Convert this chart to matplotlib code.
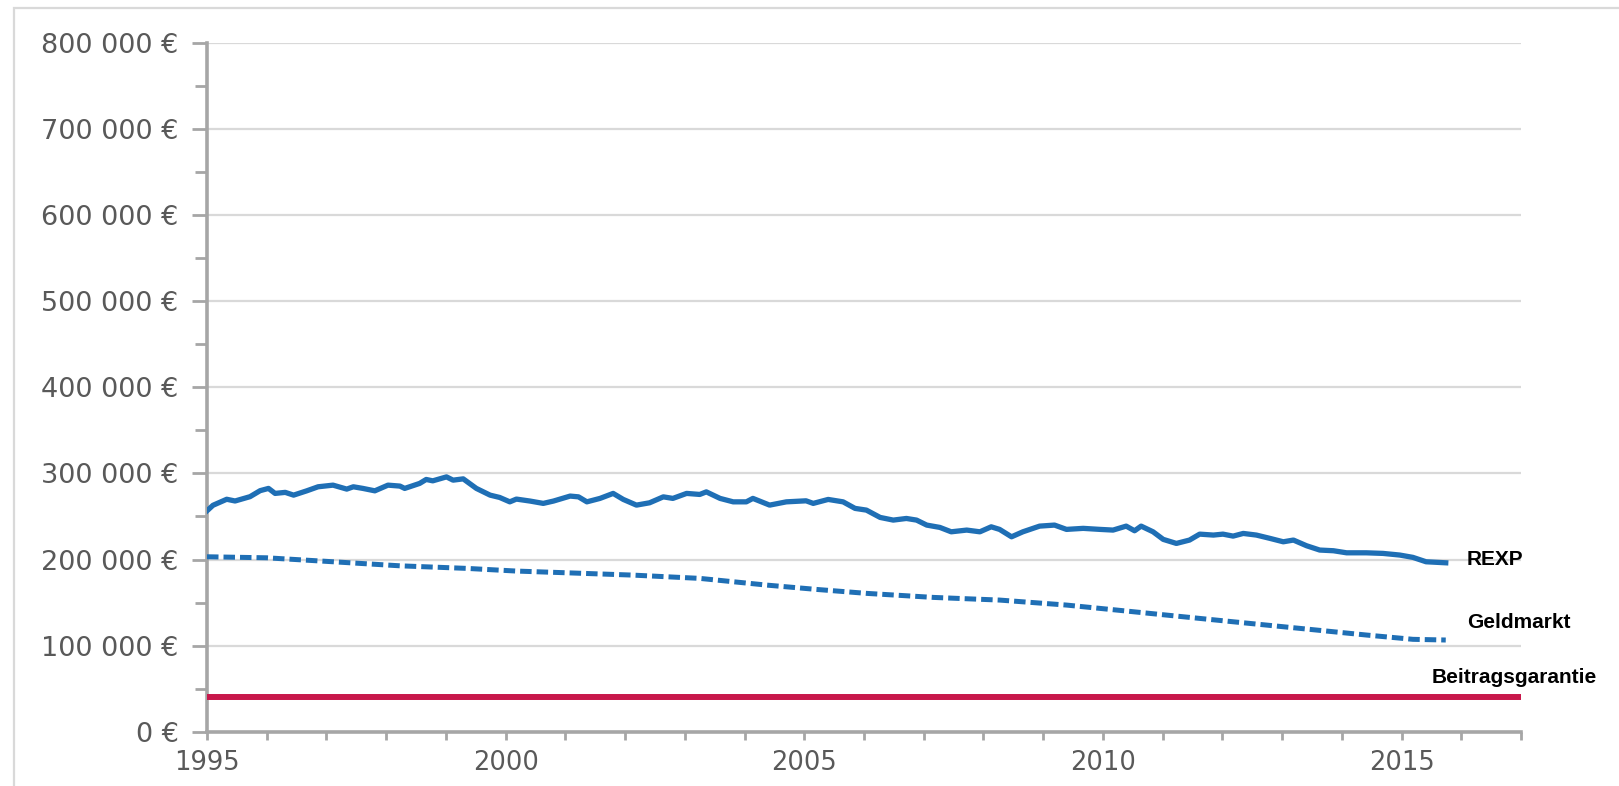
import matplotlib
matplotlib.use("Agg")
import matplotlib.pyplot as plt
from matplotlib.ticker import MultipleLocator, FuncFormatter
from matplotlib.patches import Rectangle

# REXP-Anlage (Monatswerte, in Tsd. Euro)
rexp_jahr = [1995.00, 1995.10, 1995.33, 1995.47, 1995.72, 1995.89, 1996.03, 1996.14,
             1996.31, 1996.45, 1996.67, 1996.86, 1997.11, 1997.34, 1997.45, 1997.61,
             1997.81, 1998.03, 1998.23, 1998.31, 1998.56, 1998.67, 1998.78, 1999.01,
             1999.12, 1999.29, 1999.51, 1999.74, 1999.90, 2000.07, 2000.18, 2000.41,
             2000.63, 2000.80, 2001.08, 2001.22, 2001.36, 2001.58, 2001.80, 2001.97,
             2002.19, 2002.41, 2002.64, 2002.80, 2003.03, 2003.25, 2003.36, 2003.59,
             2003.81, 2004.03, 2004.14, 2004.42, 2004.70, 2005.03, 2005.15, 2005.40,
             2005.65, 2005.85, 2006.04, 2006.27, 2006.49, 2006.71, 2006.88, 2007.05,
             2007.27, 2007.46, 2007.72, 2007.94, 2008.13, 2008.27, 2008.47, 2008.66,
             2008.94, 2009.19, 2009.39, 2009.67, 2009.95, 2010.17, 2010.39, 2010.53,
             2010.64, 2010.84, 2011.01, 2011.23, 2011.45, 2011.62, 2011.85, 2012.01,
             2012.18, 2012.35, 2012.57, 2012.80, 2013.02, 2013.19, 2013.41, 2013.63,
             2013.86, 2014.08, 2014.41, 2014.69, 2014.97, 2015.19, 2015.41, 2015.74]
rexp_wert = [256.6, 263.0, 270.0, 268.0, 273.0, 280.0, 282.6, 276.8,
             278.0, 274.8, 279.8, 284.5, 286.4, 281.8, 284.5, 282.6,
             279.8, 286.4, 285.3, 282.6, 288.4, 293.0, 291.4, 296.0,
             292.2, 293.7, 282.6, 274.8, 272.1, 267.0, 270.2, 267.9,
             265.2, 267.9, 273.7, 272.8, 267.0, 271.0, 276.8, 269.8,
             263.2, 265.9, 272.8, 271.0, 276.8, 275.6, 278.6, 271.0,
             267.0, 267.0, 271.0, 263.2, 267.0, 268.2, 265.2, 269.8,
             267.0, 259.4, 257.4, 248.9, 245.8, 247.7, 245.8, 240.0,
             237.3, 232.2, 234.2, 232.2, 238.0, 235.0, 226.4, 232.2,
             238.8, 240.0, 235.0, 236.2, 235.0, 234.2, 238.8, 233.4,
             238.8, 232.2, 223.4, 218.7, 222.6, 229.5, 228.4, 229.5,
             227.2, 230.3, 228.4, 224.5, 220.6, 222.6, 216.0, 211.0,
             210.2, 207.8, 207.8, 207.1, 205.2, 202.5, 197.4, 196.2]

# Geldmarkt-Anlage (in Tsd. Euro)
geld_jahr = [1995.00, 1996.00, 1997.11, 1998.23, 1999.35, 2000.18, 2001.02, 2002.13,
             2003.25, 2004.37, 2005.20, 2006.04, 2007.16, 2008.27, 2009.39, 2010.23,
             2011.06, 2012.18, 2013.30, 2014.41, 2015.19, 2015.74]
geld_wert = [203.2, 202.0, 197.4, 192.7, 189.7, 186.6, 184.6, 181.9,
             178.1, 170.3, 165.3, 160.7, 156.0, 152.9, 147.1, 141.3,
             135.5, 127.7, 120.0, 112.3, 107.3, 106.5]

# Beitragsgarantie (konstant)
garantie_jahr = [1995, 2017]
garantie_wert = [40.0, 40.0]

blau = "#1F6FB5"
rot = "#C8174B"
grau_text = "#595959"
grau_achse = "#A6A6A6"
grau_gitter = "#D9D9D9"

fig = plt.figure(figsize=(16.19, 7.86), dpi=100)
ax = fig.add_axes([207 / 1619, 54.3 / 786, (1521 - 207) / 1619, (743 - 54.3) / 786])

# Rahmen um das Diagramm
fig.patches.append(Rectangle((14 / 1619, -0.1), 1.2, 1.1 - 8 / 786, transform=fig.transFigure,
                             fill=False, edgecolor=grau_gitter, linewidth=1.6, zorder=0))

ax.plot(garantie_jahr, [v * 1000 for v in garantie_wert], color=rot, lw=4.3,
        solid_capstyle="butt", zorder=3)
ax.plot(geld_jahr, [v * 1000 for v in geld_wert], color=blau, lw=3.6,
        dashes=(2.3, 1.0), zorder=3)
ax.plot(rexp_jahr, [v * 1000 for v in rexp_wert], color=blau, lw=3.8, zorder=4)

ax.set_xlim(1995, 2017)
ax.set_ylim(0, 800000)

ax.xaxis.set_major_locator(MultipleLocator(5))
ax.xaxis.set_minor_locator(MultipleLocator(1))
ax.yaxis.set_major_locator(MultipleLocator(100000))
ax.yaxis.set_minor_locator(MultipleLocator(50000))
ax.yaxis.set_major_formatter(FuncFormatter(lambda v, p: f"{int(v):,}".replace(",", " ") + " €"))

ax.grid(axis="y", which="major", color=grau_gitter, lw=1.6, zorder=1)
ax.set_axisbelow(True)

for s in ["top", "right"]:
    ax.spines[s].set_visible(False)
ax.spines["left"].set_color(grau_achse)
ax.spines["left"].set_linewidth(2.6)
ax.spines["bottom"].set_color(grau_achse)
ax.spines["bottom"].set_linewidth(2.6)

ax.tick_params(axis="y", which="major", direction="out", length=11, width=2, color=grau_achse,
               pad=9.5, labelsize=19.5, labelcolor=grau_text)
ax.tick_params(axis="y", which="minor", direction="out", length=9, width=2, color=grau_achse)
ax.tick_params(axis="x", which="both", direction="out", length=6, width=2, color=grau_achse,
               pad=7, labelsize=18.5, labelcolor=grau_text)

beschrift = dict(fontsize=15, fontweight="bold", family="Liberation Sans", color="black",
                 va="center", ha="left", clip_on=False)
ax.text(2016.09, 200500, "REXP", **beschrift)
ax.text(2016.1, 127400, "Geldmarkt", **beschrift)
ax.text(2015.5, 63500, "Beitragsgarantie", **beschrift)

fig.savefig("out.png", dpi=100)
